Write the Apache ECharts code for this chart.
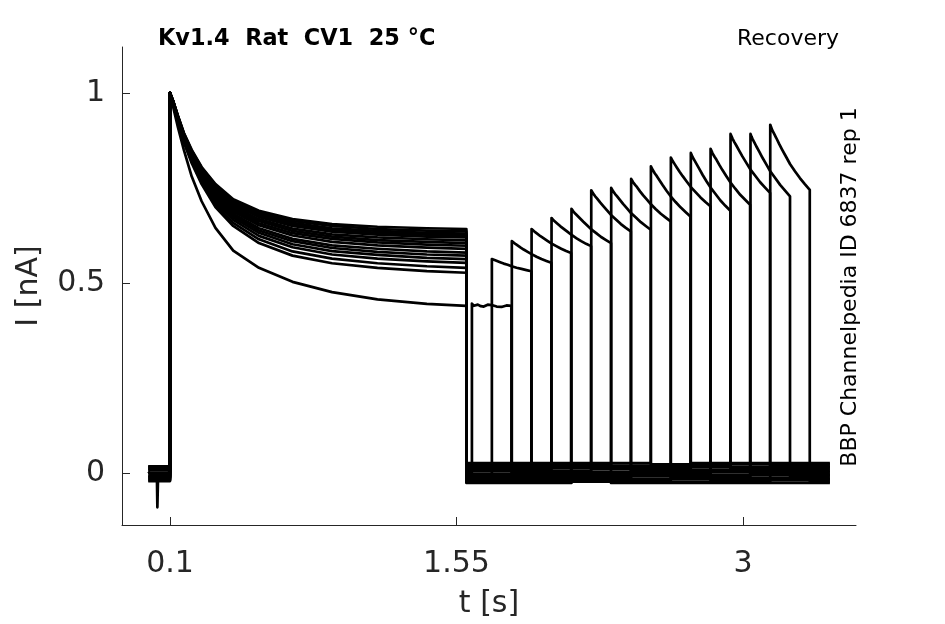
<!DOCTYPE html>
<html>
<head>
<meta charset="utf-8">
<script src="https://cdn.jsdelivr.net/npm/echarts@6/dist/echarts.min.js"></script>
<style>
  html, body { margin: 0; padding: 0; background: #fff; }
  #main { width: 945px; height: 624px; }
</style>
</head>
<body>
<div id="main"></div>
<script>
// Kv1.4 recovery protocol, 16 sweeps, current in nA, time in s
var xTicks = [0.1, 1.55, 3];
var yTicks = [0, 0.5, 1];

// baseline level of each sweep before pulse 1 and after it
var preBase = [0.004, -0.016, 0.012, -0.007, 0.018, -0.011, 0.001, 0.015, -0.021, 0.008, -0.003, 0.010, -0.013, 0.017, -0.009, -0.019];
var postBase = [0.002, -0.0155, 0.016, -0.005, 0.0095, -0.026, 0.0055, 0.023, -0.012, 0.026, -0.019, 0.0125, -0.0015, 0.0195, -0.0085, -0.0225];
var traceStart = -0.01;
var traceEnd = 3.44;

// capacitive spike on the first sweep
var spikeT = [0.034, 0.036, 0.039];
var spikeV = [-0.02, -0.09, -0.02];

// pulse 1 (0.1 s .. 1.6 s)
var t1 = [0.1, 0.115, 0.14, 0.17, 0.21, 0.26, 0.33, 0.42, 0.55, 0.72, 0.92, 1.15, 1.4, 1.6];
var pulse1 = [
  [1, 0.965, 0.910, 0.850, 0.780, 0.715, 0.645, 0.585, 0.540, 0.503, 0.476, 0.457, 0.445, 0.440],
  [1, 0.980, 0.940, 0.895, 0.850, 0.805, 0.760, 0.720, 0.690, 0.668, 0.655, 0.648, 0.644, 0.642],
  [1, 0.980, 0.939, 0.894, 0.848, 0.803, 0.757, 0.716, 0.686, 0.663, 0.650, 0.642, 0.638, 0.636],
  [1, 0.979, 0.938, 0.892, 0.846, 0.800, 0.754, 0.713, 0.681, 0.658, 0.644, 0.637, 0.632, 0.630],
  [1, 0.979, 0.938, 0.891, 0.845, 0.798, 0.751, 0.710, 0.677, 0.654, 0.640, 0.632, 0.627, 0.625],
  [1, 0.979, 0.937, 0.890, 0.843, 0.796, 0.749, 0.707, 0.674, 0.650, 0.635, 0.627, 0.622, 0.620],
  [1, 0.979, 0.936, 0.888, 0.841, 0.793, 0.744, 0.702, 0.668, 0.643, 0.628, 0.620, 0.615, 0.612],
  [1, 0.978, 0.935, 0.887, 0.839, 0.791, 0.741, 0.697, 0.663, 0.637, 0.622, 0.613, 0.608, 0.605],
  [1, 0.978, 0.934, 0.885, 0.837, 0.788, 0.737, 0.693, 0.657, 0.631, 0.616, 0.607, 0.601, 0.598],
  [1, 0.978, 0.933, 0.884, 0.834, 0.785, 0.733, 0.688, 0.652, 0.625, 0.608, 0.599, 0.593, 0.590],
  [1, 0.977, 0.932, 0.882, 0.831, 0.781, 0.728, 0.682, 0.644, 0.616, 0.599, 0.590, 0.583, 0.580],
  [1, 0.977, 0.931, 0.880, 0.829, 0.778, 0.723, 0.677, 0.638, 0.610, 0.592, 0.582, 0.575, 0.572],
  [1, 0.977, 0.930, 0.878, 0.826, 0.774, 0.719, 0.672, 0.632, 0.602, 0.584, 0.574, 0.566, 0.563],
  [1, 0.976, 0.928, 0.876, 0.823, 0.770, 0.714, 0.666, 0.624, 0.594, 0.575, 0.564, 0.557, 0.553],
  [1, 0.976, 0.927, 0.873, 0.819, 0.765, 0.707, 0.658, 0.615, 0.583, 0.564, 0.552, 0.544, 0.540],
  [1, 0.975, 0.925, 0.870, 0.815, 0.760, 0.700, 0.650, 0.605, 0.572, 0.552, 0.540, 0.531, 0.527]
];

// pulse 2: start time per sweep, sample offsets inside the 0.2 s pulse
var t2Start = [1.628, 1.729, 1.830, 1.930, 2.031, 2.132, 2.232, 2.333, 2.434, 2.534, 2.635, 2.736, 2.836, 2.937, 3.038, 3.138];
var t2Off = [0, 0.005, 0.01, 0.02, 0.03, 0.045, 0.06, 0.08, 0.1, 0.125, 0.15, 0.175, 0.2];
var pulse2 = [
  [0.446, 0.441, 0.440, 0.444, 0.443, 0.439, 0.438, 0.443, 0.442, 0.438, 0.437, 0.441, 0.440],
  [0.563, 0.561, 0.560, 0.559, 0.557, 0.554, 0.551, 0.548, 0.544, 0.540, 0.537, 0.534, 0.531],
  [0.610, 0.607, 0.605, 0.602, 0.599, 0.593, 0.588, 0.582, 0.576, 0.569, 0.563, 0.558, 0.553],
  [0.642, 0.640, 0.637, 0.633, 0.629, 0.623, 0.618, 0.611, 0.604, 0.597, 0.590, 0.584, 0.579],
  [0.671, 0.668, 0.665, 0.660, 0.656, 0.649, 0.643, 0.635, 0.627, 0.618, 0.610, 0.603, 0.597],
  [0.695, 0.691, 0.688, 0.682, 0.677, 0.669, 0.661, 0.651, 0.641, 0.631, 0.621, 0.613, 0.605],
  [0.744, 0.739, 0.735, 0.728, 0.722, 0.712, 0.703, 0.691, 0.679, 0.667, 0.655, 0.645, 0.636],
  [0.750, 0.745, 0.741, 0.734, 0.728, 0.718, 0.708, 0.696, 0.684, 0.672, 0.660, 0.650, 0.640],
  [0.774, 0.769, 0.765, 0.758, 0.752, 0.741, 0.731, 0.719, 0.707, 0.694, 0.682, 0.672, 0.662],
  [0.807, 0.801, 0.796, 0.788, 0.781, 0.769, 0.757, 0.742, 0.728, 0.713, 0.699, 0.687, 0.675],
  [0.830, 0.825, 0.820, 0.812, 0.804, 0.792, 0.781, 0.767, 0.753, 0.739, 0.725, 0.713, 0.702],
  [0.842, 0.836, 0.830, 0.821, 0.812, 0.798, 0.784, 0.767, 0.751, 0.734, 0.717, 0.703, 0.690],
  [0.853, 0.847, 0.841, 0.832, 0.824, 0.810, 0.797, 0.781, 0.765, 0.748, 0.732, 0.719, 0.706],
  [0.892, 0.886, 0.880, 0.870, 0.861, 0.847, 0.833, 0.816, 0.799, 0.782, 0.765, 0.751, 0.737],
  [0.892, 0.885, 0.879, 0.869, 0.859, 0.845, 0.830, 0.812, 0.794, 0.776, 0.758, 0.743, 0.728],
  [0.916, 0.909, 0.902, 0.892, 0.882, 0.866, 0.851, 0.832, 0.813, 0.794, 0.776, 0.760, 0.745]
];

var axisColor = '#262626';
var fontFam = 'DejaVu Sans';

var myChart = echarts.init(document.getElementById('main'), null, { renderer: 'canvas' });

function sweepData(k) {
  var d = [[traceStart, preBase[k]]];
  if (k === 0) {
    for (var s = 0; s < spikeT.length; s++) d.push([spikeT[s], spikeV[s]]);
  }
  d.push([t1[0], preBase[k]]);
  for (var i = 0; i < t1.length; i++) d.push([t1[i], pulse1[k][i]]);
  d.push([t1[t1.length - 1], postBase[k]]);
  d.push([t2Start[k], postBase[k]]);
  for (var j = 0; j < t2Off.length; j++) d.push([t2Start[k] + t2Off[j], pulse2[k][j]]);
  d.push([t2Start[k] + t2Off[t2Off.length - 1], postBase[k]]);
  d.push([traceEnd, postBase[k]]);
  return d;
}

var series = [];
for (var k = 0; k < pulse1.length; k++) {
  series.push({
    type: 'line',
    data: sweepData(k),
    showSymbol: false,
    symbol: 'none',
    silent: true,
    lineStyle: { color: '#000', width: 2.7, join: 'round' },
    z: 2
  });
}

option = {
  animation: false,
  backgroundColor: '#fff',
  grid: { left: 122, top: 47, width: 734, height: 479, containLabel: false },
  xAxis: {
    type: 'value',
    min: -0.143,
    max: 3.572,
    name: 't [s]',
    nameLocation: 'middle',
    nameGap: 64,
    nameTextStyle: { fontFamily: fontFam, fontSize: 30, color: axisColor },
    axisLine: { show: true, onZero: false, lineStyle: { color: axisColor, width: 1 } },
    axisTick: { show: true, inside: true, length: 8, customValues: xTicks, lineStyle: { color: axisColor } },
    axisLabel: { customValues: xTicks, fontFamily: fontFam, fontSize: 30, color: axisColor, margin: 24 },
    splitLine: { show: false }
  },
  yAxis: {
    type: 'value',
    min: -0.1365,
    max: 1.1207,
    name: 'I [nA]',
    nameLocation: 'middle',
    nameGap: 78,
    nameTextStyle: { fontFamily: fontFam, fontSize: 30, color: axisColor },
    axisLine: { show: true, onZero: false, lineStyle: { color: axisColor, width: 1 } },
    axisTick: { show: true, inside: true, length: 8, customValues: yTicks, lineStyle: { color: axisColor } },
    axisLabel: { customValues: yTicks, fontFamily: fontFam, fontSize: 30, color: axisColor, margin: 17 },
    splitLine: { show: false }
  },
  graphic: [
    {
      type: 'text', left: 158, top: 28,
      style: { text: 'Kv1.4  Rat  CV1  25 °C', font: 'bold 22.4px "DejaVu Sans"', fill: '#000' }
    },
    {
      type: 'text', right: 106, top: 28,
      style: { text: 'Recovery', font: '22px "DejaVu Sans"', fill: '#000' }
    },
    {
      type: 'text', x: 850, y: 287, rotation: Math.PI / 2,
      style: { text: 'BBP Channelpedia ID 6837 rep 1', font: '22px "DejaVu Sans"', fill: '#000', align: 'center', verticalAlign: 'middle' }
    }
  ],
  series: series
};

myChart.setOption(option);
</script>
</body>
</html>
